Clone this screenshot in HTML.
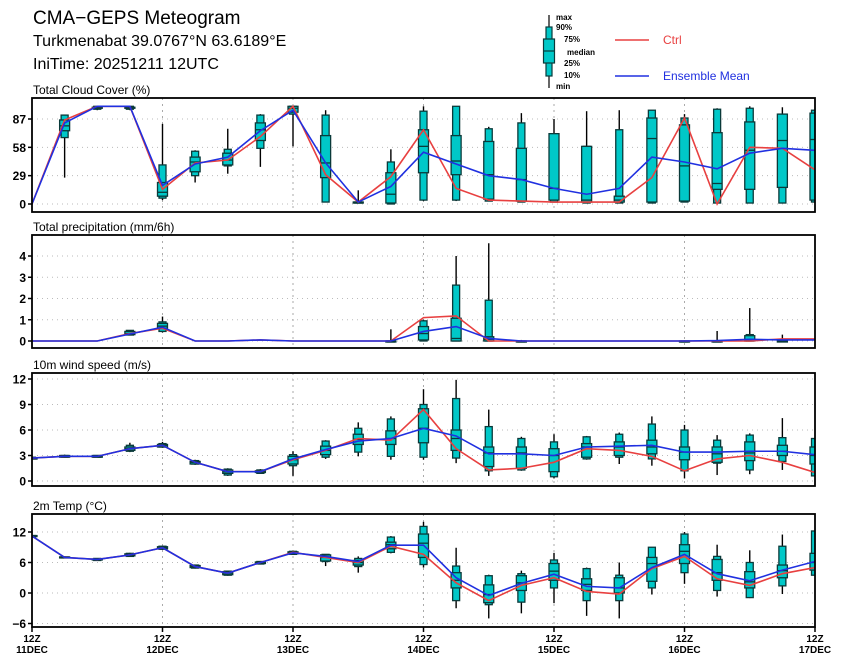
<!DOCTYPE html>
<html><head><meta charset="utf-8"><style>
html,body{margin:0;padding:0;background:#fff;}
svg{display:block;font-family:"Liberation Sans",sans-serif;}
</style></head><body>
<svg id="chart" width="841" height="664" viewBox="0 0 841 664" xmlns="http://www.w3.org/2000/svg">
<text x="33" y="24" font-size="19">CMA−GEPS Meteogram</text>
<text x="33" y="46" font-size="16">Turkmenabat 39.0767°N 63.6189°E</text>
<text x="33" y="69" font-size="16">IniTime: 20251211 12UTC</text>
<g>
<line x1="549" y1="15" x2="549" y2="88" stroke="#000" stroke-width="1.2"/>
<rect x="546" y="27" width="6" height="49" fill="#00c8c8" stroke="#0a3a3a" stroke-width="1.2"/>
<rect x="543.5" y="39" width="11" height="24" fill="#00c8c8" stroke="#0a3a3a" stroke-width="1.2"/>
<line x1="543.5" y1="51" x2="554.5" y2="51" stroke="#0a3a3a" stroke-width="1.2"/>
<g font-size="8" font-weight="bold">
<text x="556" y="20">max</text><text x="556" y="30">90%</text><text x="564" y="42">75%</text><text x="567" y="55">median</text><text x="564" y="66">25%</text><text x="564" y="78">10%</text><text x="556" y="89">min</text>
</g>
<line x1="615" y1="40" x2="649" y2="40" stroke="#e84040" stroke-width="1.5"/>
<text x="663" y="44" font-size="12" fill="#e84040">Ctrl</text>
<line x1="615" y1="76" x2="649" y2="76" stroke="#2030e0" stroke-width="1.5"/>
<text x="663" y="80" font-size="12" fill="#2030e0">Ensemble Mean</text>
</g>
</svg>
<script>
// ---- Data (25 steps, 6-hourly from 11DEC 12Z) ----
const xTickLabels = ["11DEC","12DEC","13DEC","14DEC","15DEC","16DEC","17DEC"];
// Cloud
const cloudCtrl = [0,86,100,100,15,42,45,69,100,30,2,28,76,16,4,3,2,2,2,27,88,0,58,57,35];
const cloudMean = [0,83,100,100,19,41,48,75,96,42,2,18,53,41,29,25,16,10,16,48,43,36,52,57,55];
const cloudMax  = [null,91,100,100,82,55,77,92,100,96,14,56,100,100,79,93,87,95,96,96,92,98,100,99,96];
const cloudP90  = [null,91,100,100,40,54,56,91,100,91,2,43,95,100,77,83,72,59,76,96,88,97,98,92,96];
const cloudP75  = [null,86,99,99,22,48,52,83,100,70,2,32,76,70,64,57,72,59,8,88,81,73,84,92,93];
const cloudMed  = [null,80,99,99,12,43,45,76,98,42,2,10,59,44,30,25,16,4,4,67,39,21,55,65,66];
const cloudP25  = [null,75,98,98,8,33,40,65,94,27,1,1,32,30,5,3,4,2,2,2,3,15,15,17,4];
const cloudP10  = [null,68,97,97,6,29,39,57,92,2,1,0,4,4,3,2,2,1,1,1,2,1,1,1,2];
const cloudMin  = [null,27,96,96,4,22,31,38,59,2,1,0,3,3,3,2,2,1,1,1,2,1,1,1,2];
// Precip
const prCtrl = [0,0,0,0.35,0.6,0,0,0.05,0,0,0,0,1.1,1.18,0,0,0,0,0,0,0,0,0,0.1,0.1];
const prMean = [0,0,0,0.33,0.65,0,0,0.05,0,0,0,0,0.45,0.68,0.12,0,0,0,0,0,0,0.02,0.08,0.05,0.05];
const prMax  = [null,null,null,0.5,1.15,null,null,null,null,null,null,0.55,1.0,4.0,4.6,0.05,null,null,null,null,0.03,0.47,1.55,0.3,null];
const prP90  = [null,null,null,0.5,0.9,null,null,null,null,null,null,0,0.95,2.63,1.92,0,null,null,null,null,0,0,0.3,0.05,null];
const prP75  = [null,null,null,0.45,0.83,null,null,null,null,null,null,0,0.68,1.07,0.2,0,null,null,null,null,0,0,0.25,0,null];
const prMed  = [null,null,null,0.35,0.7,null,null,null,null,null,null,0,0.35,0.12,0.08,0,null,null,null,null,0,0,0.05,0,null];
const prP25  = [null,null,null,0.3,0.6,null,null,null,null,null,null,0,0.05,0,0,0,null,null,null,null,0,0,0,0,null];
const prP10  = [null,null,null,0.28,0.45,null,null,null,null,null,null,0,0,0,0,0,null,null,null,null,0,0,0,0,null];
const prMin  = [null,null,null,0.28,0.4,null,null,null,null,null,null,0,0,0,0,0,null,null,null,null,0,0,0,0,null];
// Wind
const wCtrl = [2.7,2.9,2.9,3.8,4.2,2.2,1.1,1.1,2.5,3.6,5.0,4.8,8.4,3.8,1.3,1.5,2.2,3.8,3.6,2.9,1.2,2.6,3.0,2.2,1.0];
const wMean = [2.7,2.9,2.9,3.8,4.2,2.2,1.1,1.1,2.6,3.7,4.7,5.0,6.2,5.3,3.2,3.2,3.0,4.0,4.1,4.2,3.4,3.4,3.5,3.5,3.1];
const wMax  = [2.8,3.1,3.0,4.5,4.6,2.5,1.5,1.4,3.5,4.8,6.9,7.6,10.8,11.9,8.4,5.2,5.5,5.3,5.7,7.6,6.6,5.4,5.6,7.4,5.0];
const wP90  = [2.8,3.0,3.0,4.2,4.4,2.4,1.4,1.3,3.1,4.7,6.2,7.3,9.0,9.7,6.4,5.0,4.6,5.2,5.5,6.7,6.0,4.8,5.4,5.1,5.0];
const wP75  = [2.7,3.0,3.0,4.0,4.3,2.3,1.3,1.2,2.9,4.1,5.5,5.9,8.5,6.0,4.0,4.0,3.8,4.4,4.6,4.8,4.0,4.0,4.6,4.2,4.0];
const wMed  = [2.7,2.9,2.9,3.8,4.2,2.2,1.1,1.1,2.5,3.6,4.9,5.0,6.2,5.0,3.3,3.3,3.0,4.0,4.0,4.0,3.4,3.2,3.3,3.5,3.0];
const wP25  = [2.6,2.8,2.8,3.6,4.0,2.0,0.9,1.0,2.0,3.1,4.3,4.3,4.5,3.6,1.7,1.5,1.1,2.8,3.0,3.2,2.5,2.2,2.4,3.0,2.0];
const wP10  = [2.6,2.8,2.8,3.5,4.0,2.0,0.7,0.9,1.8,2.8,3.4,2.9,2.8,2.7,1.2,1.3,0.5,2.6,2.8,2.6,1.2,2.1,1.3,2.3,0.6];
const wMin  = [2.6,2.8,2.8,3.4,3.9,1.9,0.6,0.9,0.6,2.6,2.9,2.5,2.5,2.1,0.6,1.2,0.3,2.5,2.0,1.8,0.3,0.7,0.8,1.3,0.6];
// Temp
const tCtrl = [11.2,7.0,6.6,7.5,8.9,5.2,3.9,6.0,8.0,7.0,6.0,9.2,7.6,2.0,-1.5,1.5,3.0,0.3,-0.2,4.8,7.2,2.8,1.5,3.8,5.0];
const tMean = [11.2,7.0,6.6,7.5,8.9,5.2,3.9,6.0,7.9,7.2,6.2,9.4,9.4,3.0,-0.5,1.9,3.7,1.3,1.0,5.0,7.6,3.8,2.4,4.5,6.2];
const tMax  = [11.4,7.2,6.8,7.9,9.3,5.6,4.4,6.3,8.3,7.6,7.2,11.2,14.0,8.9,3.6,4.4,7.9,5.0,6.0,9.0,12.0,9.5,8.4,11.5,12.2];
const tP90  = [11.3,7.1,6.8,7.8,9.2,5.5,4.3,6.2,8.2,7.6,6.8,11.0,13.1,5.3,3.4,3.8,6.5,4.8,3.5,9.0,11.6,7.2,6.0,9.2,12.2];
const tP75  = [11.3,7.1,6.7,7.7,9.1,5.4,4.2,6.1,8.1,7.5,6.4,10.0,11.6,4.0,1.6,3.4,5.8,2.8,3.0,7.0,9.5,6.6,4.2,5.5,7.8];
const tMed  = [11.2,7.0,6.6,7.5,8.9,5.2,3.9,6.0,8.0,7.0,6.0,9.5,9.8,2.5,-0.3,2.0,4.3,1.7,1.0,5.8,8.2,4.0,2.2,4.4,6.0];
const tP25  = [11.1,6.9,6.5,7.3,8.7,5.0,3.6,5.8,7.7,6.3,5.5,8.7,7.0,1.0,-1.9,0.5,2.5,0.5,0.0,2.3,5.8,2.5,1.0,3.0,4.5];
const tP10  = [11.0,6.9,6.4,7.2,8.6,4.9,3.5,5.7,7.6,6.2,5.2,8.0,5.6,-1.5,-2.3,-1.8,1.0,-1.5,-1.5,1.0,4.0,0.5,-0.9,1.4,3.5];
const tMin  = [11.0,6.8,6.4,7.1,8.5,4.8,3.4,5.6,7.5,5.3,4.0,7.8,5.0,-3.0,-5.0,-4.0,-2.0,-4.5,-5.0,-0.3,1.8,-0.7,-1.0,-0.2,3.5];

const panels = [
 {name:"cloud", title:"Total Cloud Cover (%)", top:98, bottom:212, v0:0, y0:204, v1:87, y1:119, ticks:[0,29,58,87],
  ctrl:cloudCtrl, mean:cloudMean, box:[cloudMax,cloudP90,cloudP75,cloudMed,cloudP25,cloudP10,cloudMin]},
 {name:"precip", title:"Total precipitation (mm/6h)", top:235, bottom:348, v0:0, y0:341, v1:4, y1:256, ticks:[0,1,2,3,4],
  ctrl:prCtrl, mean:prMean, box:[prMax,prP90,prP75,prMed,prP25,prP10,prMin]},
 {name:"wind", title:"10m wind speed (m/s)", top:373, bottom:486, v0:0, y0:481, v1:12, y1:379, ticks:[0,3,6,9,12],
  ctrl:wCtrl, mean:wMean, box:[wMax,wP90,wP75,wMed,wP25,wP10,wMin]},
 {name:"temp", title:"2m Temp (°C)", top:514, bottom:627, v0:0, y0:593, v1:12, y1:532, ticks:[-6,0,6,12],
  ctrl:tCtrl, mean:tMean, box:[tMax,tP90,tP75,tMed,tP25,tP10,tMin]}
];

const svg = document.getElementById('chart');
const NS = "http://www.w3.org/2000/svg";
const X0 = 32, X1 = 815, NSTEP = 24;
function xs(i){ return X0 + (X1 - X0) * i / NSTEP; }
function mk(tag, attrs, parent){ const e = document.createElementNS(NS, tag); for (const k in attrs) e.setAttribute(k, attrs[k]); (parent||svg).appendChild(e); return e; }

const defs = mk('defs', {});
panels.forEach((p, pi) => {
  const ys = v => p.y0 + (v - p.v0) * (p.y1 - p.y0) / (p.v1 - p.v0);
  const g = mk('g', {});
  
  
  const cp = mk('clipPath', {id: 'clip' + pi}, defs);
  mk('rect', {x: X0, y: p.top, width: X1 - X0, height: p.bottom - p.top}, cp);
  const t = mk('text', {x: 33, y: p.top - 4, 'font-size': 12}, g);
  t.textContent = p.title;
  
  
  // grid
  p.ticks.forEach(v => {
    const y = ys(v);
    mk('line', {x1: X0, x2: X1, y1: y, y2: y, stroke: '#bbb', 'stroke-width': 1, 'stroke-dasharray': '1,4'}, g);
    mk('line', {x1: X0 - 4, x2: X0, y1: y, y2: y, stroke: '#000', 'stroke-width': 1.5}, g);
    const lb = mk('text', {x: 26, y: y + 4.5, 'font-size': 12, 'font-weight': 'bold', 'text-anchor': 'end'}, g);
    lb.textContent = String(v).replace('-', '−');
    
    
  });
  for (let d = 1; d < 6; d++) {
    const x = xs(d * 4);
    mk('line', {x1: x, x2: x, y1: p.top, y2: p.bottom, stroke: '#aaa', 'stroke-width': 1, 'stroke-dasharray': '2,4'}, g);
  }
  const inner = mk('g', {'clip-path': 'url(#clip' + pi + ')'}, g);
  // boxes
  const [mx, p90, p75, md, p25, p10, mn] = p.box;
  for (let i = 0; i <= NSTEP; i++) {
    if (mx[i] === null) continue;
    const x = xs(i);
    const bg = mk('g', {}, inner);
    
    
    mk('line', {x1: x, x2: x, y1: ys(mx[i]), y2: ys(mn[i]), stroke: '#000', 'stroke-width': 1.4}, bg);
    mk('rect', {x: x - 3.5, y: ys(p90[i]), width: 7, height: Math.max(1, ys(p10[i]) - ys(p90[i])), fill: '#00c8c8', stroke: '#0a3a3a', 'stroke-width': 1.3}, bg);
    mk('rect', {x: x - 5, y: ys(p75[i]), width: 10, height: Math.max(1, ys(p25[i]) - ys(p75[i])), fill: '#00c8c8', stroke: '#0a3a3a', 'stroke-width': 1.3}, bg);
    mk('line', {x1: x - 5, x2: x + 5, y1: ys(md[i]), y2: ys(md[i]), stroke: '#0a3a3a', 'stroke-width': 1.3}, bg);
  }
  const ptsC = p.ctrl.map((v, i) => xs(i) + ',' + ys(v)).join(' ');
  const lc = mk('polyline', {points: ptsC, fill: 'none', stroke: '#e84040', 'stroke-width': 1.6}, inner);
  
  
  const ptsM = p.mean.map((v, i) => xs(i) + ',' + ys(v)).join(' ');
  const lm = mk('polyline', {points: ptsM, fill: 'none', stroke: '#2030e0', 'stroke-width': 1.6}, inner);
  
  
  mk('rect', {x: X0, y: p.top, width: X1 - X0, height: p.bottom - p.top, fill: 'none', stroke: '#000', 'stroke-width': 1.8}, g);
  if (pi === panels.length - 1) {
    for (let d = 0; d <= 6; d++) {
      const x = xs(d * 4);
      mk('line', {x1: x, x2: x, y1: p.bottom, y2: p.bottom + 5, stroke: '#000', 'stroke-width': 1.5}, g);
      const a = mk('text', {x: x, y: 642, 'font-size': 10, 'font-weight': 'bold', 'text-anchor': 'middle'}, g);
      a.textContent = '12Z';
      
      
      const b = mk('text', {x: x, y: 653, 'font-size': 10, 'font-weight': 'bold', 'text-anchor': 'middle'}, g);
      b.textContent = xTickLabels[d];
      
      
    }
  }
});
</script>
</body></html>
